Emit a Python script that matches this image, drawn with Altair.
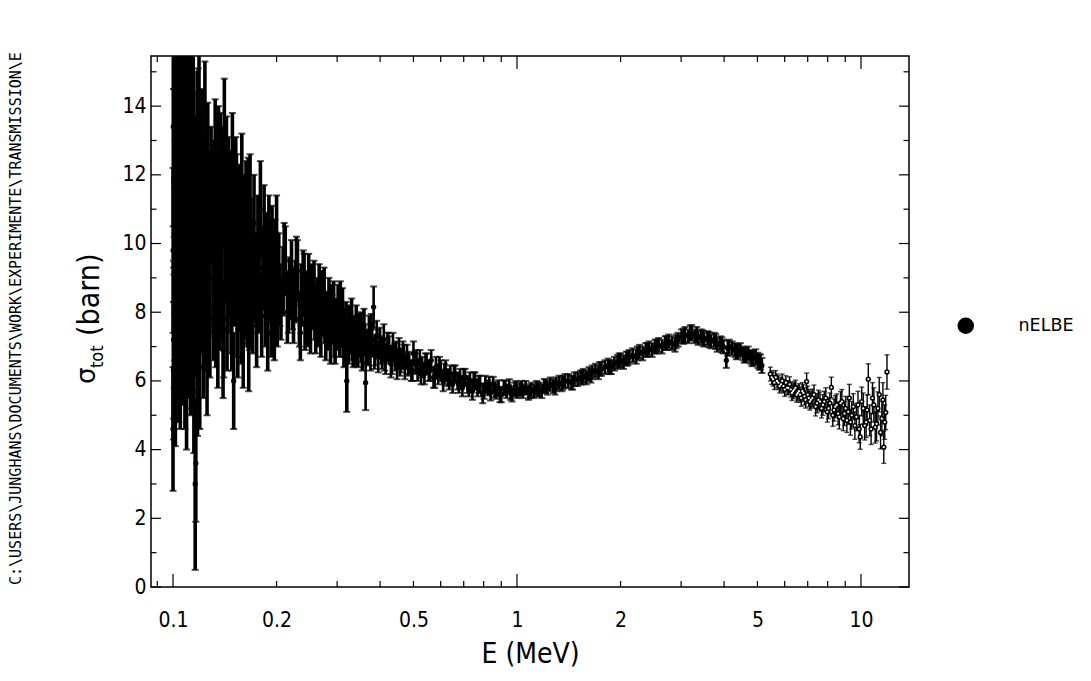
import altair as alt
import pandas as pd

# ---------------- data ----------------
# energies (MeV), cross sections (barn), 1-sigma errors (barn)
A_E = [0.1000,0.1002,0.1004,0.1007,0.1010,0.1013,0.1016,0.1019,0.1022,0.1026,
       0.1030,0.1034,0.1038,0.1042,0.1046,0.1050,0.1055,0.1060,0.1065,0.1070,
       0.1075,0.1080,0.1085,0.1090,0.1095,0.1100,0.1105,0.1110,0.1115,0.1120,
       0.1125,0.1130,0.1135,0.1140,0.1145,0.1150,0.1155,0.1160,0.1165,0.1170,
       0.1175,0.1180,0.1185,0.1190,0.1196,0.1202,0.1208,0.1214,0.1220,0.1226,
       0.1232,0.1238,0.1244,0.1250,0.1256,0.1262,0.1268,0.1274,0.1280,0.1290]
A_S = [4.6, 13.4, 7.2, 11.8, 9.1, 14.6, 6.1, 12.3, 8.4, 10.2,
       13.1, 7.7, 11.0, 9.6, 14.0, 6.6, 12.7, 8.9, 10.6, 13.8,
       7.4, 11.5, 9.3, 12.9, 5.9, 10.8, 8.2, 13.5, 9.8, 11.9,
       6.9, 12.4, 8.6, 10.1, 13.2, 5.7, 11.3, 3.0, 3.6, 9.4,
       12.6, 7.9, 10.9, 13.7, 6.4, 11.6, 8.8, 12.2, 9.9, 7.3,
       11.1, 13.0, 8.1, 10.4, 6.7, 12.0, 9.2, 10.7, 7.8, 11.4]
A_R = [1.8, 2.9, 2.3, 2.7, 2.5, 3.0, 2.0, 2.8, 2.4, 2.6,
       2.8, 2.2, 2.6, 2.4, 2.9, 2.0, 2.7, 2.3, 2.5, 2.8,
       2.1, 2.6, 2.3, 2.7, 1.9, 2.4, 2.2, 2.8, 2.3, 2.5,
       1.9, 2.5, 2.1, 2.3, 2.6, 1.8, 2.4, 2.5, 1.7, 2.2,
       2.4, 2.0, 2.3, 2.5, 1.8, 2.3, 2.0, 2.3, 2.1, 1.8,
       2.1, 2.3, 1.8, 2.0, 1.7, 2.1, 1.9, 2.0, 1.7, 2.0]

A2_E = [0.1001,0.1003,0.1005,0.1008,0.1011,0.1014,0.1017,0.1021,0.1024,0.1028,
        0.1032,0.1036,0.1040,0.1044,0.1048,0.1053,0.1058,0.1063,0.1068,0.1073,
        0.1078,0.1083,0.1088,0.1093,0.1098,0.1103,0.1108,0.1113,0.1118,0.1123,
        0.1128,0.1133,0.1138,0.1143,0.1148,0.1153,0.1172,0.1178,0.1183,0.1188]
A2_S = [9.8, 6.3, 11.9, 8.0, 13.0, 10.5, 7.6, 12.1, 9.0, 14.2,
        8.6, 10.9, 6.8, 12.5, 9.5, 11.3, 7.9, 13.3, 10.0, 8.5,
        12.4, 6.5, 10.3, 9.0, 11.7, 7.5, 12.9, 9.6, 8.2, 10.6,
        13.6, 7.1, 11.4, 9.3, 12.0, 8.0, 10.5, 6.2, 12.7, 9.1]
A2_R = [2.4, 2.0, 2.6, 2.2, 2.7, 2.5, 2.1, 2.6, 2.3, 2.8,
        2.2, 2.5, 2.0, 2.6, 2.3, 2.5, 2.1, 2.7, 2.3, 2.1,
        2.5, 1.9, 2.3, 2.2, 2.4, 2.0, 2.6, 2.2, 2.0, 2.3,
        2.6, 1.9, 2.3, 2.1, 2.4, 1.9, 2.2, 1.8, 2.4, 2.0]

B_E = [0.1302,0.1314,0.1326,0.1338,0.1350,0.1362,0.1374,0.1386,0.1398,0.1410,
       0.1423,0.1436,0.1449,0.1462,0.1475,0.1488,0.1501,0.1515,0.1529,0.1543,
       0.1557,0.1571,0.1585,0.1600,0.1615,0.1630,0.1645,0.1660,0.1675,0.1690,
       0.1705,0.1720,0.1735,0.1750,0.1765,0.1780,0.1795,0.1810,0.1825,0.1840,
       0.1855,0.1870,0.1885,0.1900,0.1910,0.1920,0.1930,0.1940,0.1950,0.1960,
       0.1970,0.1980,0.1990,0.2000,0.2010]
B_S = [11.2, 8.1, 12.4, 9.5, 7.3, 10.8, 12.0, 8.7, 6.9, 12.6,
       9.9, 7.8, 11.4, 10.3, 8.2, 12.1, 6.0, 9.6, 11.0, 7.5,
       10.5, 8.9, 11.6, 7.1, 9.8, 10.9, 8.3, 7.0, 11.2, 9.4,
       8.0, 10.6, 9.0, 7.6, 10.1, 8.6, 11.0, 7.9, 9.3, 10.4,
       8.1, 9.7, 7.4, 10.2, 8.8, 9.5, 7.8, 10.0, 8.4, 9.1,
       7.6, 9.6, 8.5, 10.3, 8.0]
B_R = [1.7, 1.5, 1.8, 1.6, 1.5, 1.7, 1.8, 1.5, 1.4, 2.2,
       1.6, 1.5, 1.7, 1.6, 1.4, 1.7, 1.4, 1.5, 1.6, 1.4,
       1.5, 1.4, 1.6, 1.3, 1.4, 1.5, 1.3, 1.3, 1.4, 1.3,
       1.2, 1.4, 1.3, 1.2, 1.3, 1.2, 1.4, 1.2, 1.2, 1.3,
       1.1, 1.2, 1.1, 1.2, 1.1, 1.2, 1.1, 1.1, 1.1, 1.1,
       1.0, 1.1, 1.0, 1.1, 1.0]

B2_E = [0.1308,0.1320,0.1332,0.1344,0.1356,0.1368,0.1380,0.1392,0.1404,0.1416,
        0.1430,0.1443,0.1456,0.1469,0.1482,0.1495,0.1508,0.1522,0.1536,0.1550,
        0.1564,0.1578,0.1593,0.1608,0.1623,0.1638,0.1653,0.1668,0.1683,0.1698]
B2_S = [9.0, 11.3, 7.9, 10.6, 12.2, 8.4, 9.9, 11.7, 7.5, 10.1,
        12.0, 8.8, 9.4, 11.1, 7.7, 10.2, 9.0, 11.5, 8.1, 9.7,
        10.8, 7.8, 9.3, 10.5, 8.5, 9.6, 11.0, 8.2, 9.9, 8.7]
B2_R = [1.6, 1.7, 1.5, 1.6, 1.8, 1.5, 1.6, 1.7, 1.4, 1.5,
        1.7, 1.4, 1.5, 1.6, 1.4, 1.5, 1.4, 1.6, 1.4, 1.4,
        1.5, 1.3, 1.4, 1.5, 1.3, 1.4, 1.5, 1.3, 1.4, 1.3]

C_E = [0.2030,0.2060,0.2090,0.2120,0.2150,0.2180,0.2210,0.2240,0.2270,0.2300,
       0.2330,0.2360,0.2390,0.2420,0.2450,0.2480,0.2510,0.2540,0.2570,0.2600,
       0.2630,0.2660,0.2690,0.2720,0.2750,0.2780,0.2810,0.2840,0.2870,0.2900,
       0.2930,0.2960,0.2990,0.3020,0.3050,0.3080,0.3110,0.3140,0.3170,0.3200,
       0.3235,0.3270,0.3305,0.3340,0.3375,0.3410,0.3445,0.3480,0.3515,0.3550]
C_S = [9.3, 8.1, 8.9, 9.5, 8.0, 8.7, 9.1, 7.9, 8.6, 9.2,
       7.8, 8.5, 8.9, 7.7, 8.4, 8.8, 7.6, 8.3, 8.7, 7.5,
       8.2, 8.6, 7.4, 8.0, 8.5, 7.3, 7.9, 8.3, 7.2, 7.8,
       8.2, 7.1, 7.7, 8.1, 7.3, 7.6, 8.0, 7.0, 7.5, 6.0,
       7.1, 7.4, 7.8, 6.9, 7.3, 7.6, 6.9, 7.2, 7.5, 6.8]
C_R = [1.0, 0.9, 1.0, 1.0, 0.9, 0.9, 1.0, 0.8, 0.9, 0.9,
       0.8, 0.9, 0.9, 0.8, 0.8, 0.9, 0.8, 0.8, 0.8, 0.7,
       0.8, 0.8, 0.7, 0.7, 0.8, 0.7, 0.7, 0.7, 0.7, 0.7,
       0.7, 0.6, 0.7, 0.7, 0.6, 0.6, 0.7, 0.6, 0.6, 0.9,
       0.6, 0.6, 0.6, 0.5, 0.6, 0.6, 0.5, 0.5, 0.5, 0.5]

C2_E = [0.2045,0.2105,0.2165,0.2225,0.2285,0.2345,0.2405,0.2465,0.2525,0.2585,
        0.2645,0.2705,0.2765,0.2825,0.2885,0.2945,0.3005,0.3065,0.3125,0.3185,
        0.3250,0.3320,0.3390,0.3460,0.3530]
C2_S = [8.5, 9.6, 8.3, 8.4, 9.3, 7.4, 8.8, 7.8, 8.6, 8.0,
        7.7, 8.4, 7.8, 7.6, 8.1, 7.4, 7.5, 8.2, 7.3, 7.7,
        7.6, 7.2, 7.0, 7.4, 7.1]
C2_R = [0.9, 1.0, 0.9, 0.9, 0.9, 0.8, 0.9, 0.8, 0.8, 0.8,
        0.7, 0.8, 0.7, 0.7, 0.7, 0.7, 0.6, 0.7, 0.6, 0.6,
        0.6, 0.6, 0.55, 0.55, 0.55]

D_E = [0.3590,0.3630,0.3670,0.3710,0.3750,0.3790,0.3830,0.3870,0.3910,0.3950,
       0.4000,0.4050,0.4100,0.4150,0.4200,0.4250,0.4300,0.4360,0.4420,0.4480,
       0.4540,0.4600,0.4660,0.4720,0.4790,0.4860,0.4930,0.5000,0.5070,0.5140,
       0.5220,0.5300,0.5380,0.5460,0.5540,0.5630,0.5720,0.5810,0.5900,0.6000,
       0.6100,0.6200,0.6300,0.6400,0.6500,0.6610,0.6720,0.6830,0.6940,0.7060,
       0.7180,0.7300,0.7420,0.7550,0.7680,0.7810,0.7950,0.8090,0.8230,0.8380,
       0.8530,0.8680,0.8840,0.9000,0.9160,0.9330,0.9500,0.9670,0.9840,1.0000]
D_S = [7.6, 5.95, 7.0, 7.4, 6.8, 7.2, 8.15, 6.9, 7.3, 6.7,
       7.1, 6.8, 7.2, 6.6, 7.0, 6.9, 6.5, 7.0, 6.7, 6.4,
       6.9, 6.6, 6.8, 6.4, 6.7, 6.5, 6.3, 6.8, 6.5, 6.3,
       6.6, 6.4, 6.2, 6.5, 6.3, 6.6, 6.1, 6.4, 6.2, 6.3,
       6.0, 6.3, 6.1, 6.2, 5.9, 6.2, 6.0, 6.1, 5.8, 6.1,
       5.9, 6.0, 5.7, 6.0, 5.8, 5.9, 5.6, 5.9, 5.8, 5.65,
       5.9, 5.7, 5.8, 5.6, 5.8, 5.7, 5.85, 5.6, 5.75, 5.7]
D_R = [0.5, 0.8, 0.5, 0.5, 0.5, 0.5, 0.6, 0.45, 0.45, 0.45,
       0.45, 0.45, 0.45, 0.4, 0.4, 0.4, 0.4, 0.4, 0.4, 0.35,
       0.35, 0.35, 0.35, 0.35, 0.35, 0.3, 0.3, 0.35, 0.3, 0.3,
       0.3, 0.3, 0.3, 0.3, 0.3, 0.3, 0.3, 0.3, 0.3, 0.3,
       0.3, 0.3, 0.25, 0.25, 0.25, 0.25, 0.25, 0.25, 0.25, 0.25,
       0.25, 0.25, 0.25, 0.25, 0.25, 0.25, 0.25, 0.25, 0.22, 0.22,
       0.22, 0.22, 0.22, 0.22, 0.22, 0.2, 0.2, 0.2, 0.2, 0.2]

D2_E = [0.3610,0.3690,0.3770,0.3850,0.3930,0.4025,0.4125,0.4225,0.4330,0.4450,
        0.4570,0.4690,0.4825,0.4965,0.5105,0.5260,0.5420,0.5585,0.5765,0.5950,
        0.6150,0.6350,0.6555,0.6775,0.7000,0.7240,0.7485,0.7745,0.8020,0.8305,
        0.8605,0.8920,0.9245,0.9585,0.9920]
D2_S = [7.2, 6.9, 7.5, 6.8, 7.1, 6.9, 6.7, 7.0, 6.6, 6.8,
        6.5, 6.7, 6.5, 6.3, 6.6, 6.2, 6.5, 6.3, 6.1, 6.4,
        6.2, 6.0, 6.2, 5.9, 6.1, 5.8, 6.0, 5.9, 5.7, 5.9,
        5.75, 5.6, 5.8, 5.65, 5.8]
D2_R = [0.45, 0.45, 0.45, 0.45, 0.4, 0.4, 0.4, 0.4, 0.4, 0.35,
        0.35, 0.35, 0.35, 0.3, 0.3, 0.3, 0.3, 0.3, 0.3, 0.3,
        0.3, 0.25, 0.25, 0.25, 0.25, 0.25, 0.25, 0.25, 0.22, 0.22,
        0.22, 0.22, 0.2, 0.2, 0.2]

E_E = [1.020,1.040,1.060,1.080,1.100,1.120,1.140,1.160,1.180,1.200,
       1.225,1.250,1.275,1.300,1.325,1.350,1.380,1.410,1.440,1.470,
       1.500,1.530,1.560,1.590,1.620,1.655,1.690,1.725,1.760,1.800,
       1.840,1.880,1.920,1.960,2.000,2.040,2.080,2.120,2.170,2.220,
       2.270,2.320,2.370,2.420,2.470,2.520,2.580,2.640,2.700,2.760,
       2.820,2.880,2.940,3.010,3.080,3.150,3.220,3.290,3.360,3.430,
       3.500,3.580,3.660,3.740,3.820,3.900,3.980,4.060,4.140,4.220,
       4.300,4.380,4.460,4.540,4.620,4.700,4.780,4.860,4.940,5.020,
       5.100,5.150]
E_S = [5.75, 5.7, 5.8, 5.65, 5.75, 5.7, 5.8, 5.75, 5.7, 5.85,
       5.8, 5.9, 5.85, 5.9, 5.95, 5.9, 6.0, 6.0, 5.95, 6.05,
       6.05, 6.1, 6.15, 6.1, 6.2, 6.25, 6.3, 6.25, 6.35, 6.4,
       6.45, 6.4, 6.5, 6.55, 6.6, 6.55, 6.65, 6.7, 6.75, 6.7,
       6.85, 6.8, 6.9, 6.95, 6.9, 7.0, 7.05, 7.0, 7.1, 7.15,
       7.1, 7.05, 7.2, 7.3, 7.35, 7.3, 7.4, 7.3, 7.25, 7.3,
       7.2, 7.25, 7.15, 7.2, 7.05, 7.1, 7.0, 6.6, 7.0, 6.95,
       6.9, 6.85, 6.9, 6.8, 6.75, 6.8, 6.7, 6.65, 6.7, 6.6,
       6.55, 6.45]
E_R = [0.2, 0.2, 0.2, 0.2, 0.2, 0.2, 0.2, 0.2, 0.2, 0.2,
       0.2, 0.2, 0.2, 0.2, 0.2, 0.2, 0.2, 0.2, 0.2, 0.2,
       0.2, 0.2, 0.2, 0.2, 0.2, 0.2, 0.2, 0.2, 0.2, 0.2,
       0.2, 0.2, 0.2, 0.2, 0.2, 0.2, 0.2, 0.2, 0.2, 0.2,
       0.2, 0.2, 0.2, 0.2, 0.2, 0.2, 0.2, 0.2, 0.2, 0.2,
       0.2, 0.2, 0.2, 0.2, 0.22, 0.2, 0.22, 0.2, 0.2, 0.2,
       0.2, 0.2, 0.2, 0.2, 0.2, 0.2, 0.2, 0.22, 0.2, 0.2,
       0.2, 0.2, 0.2, 0.2, 0.2, 0.2, 0.2, 0.2, 0.22, 0.22,
       0.22, 0.22]

E2_E = [1.03,1.09,1.15,1.21,1.29,1.36,1.45,1.545,1.64,1.74,
        1.86,1.98,2.10,2.24,2.39,2.55,2.72,2.90,3.05,3.19,
        3.33,3.47,3.62,3.78,3.94,4.10,4.34,4.58,4.82,5.06]
E2_S = [5.8, 5.7, 5.75, 5.85, 5.8, 5.95, 5.95, 6.1, 6.15, 6.35,
        6.4, 6.6, 6.65, 6.8, 6.9, 7.0, 7.1, 7.15, 7.3, 7.4,
        7.35, 7.25, 7.2, 7.15, 7.05, 6.95, 6.85, 6.75, 6.65, 6.55]
E2_R = [0.2, 0.2, 0.2, 0.2, 0.2, 0.2, 0.2, 0.2, 0.2, 0.2,
        0.2, 0.2, 0.2, 0.2, 0.2, 0.2, 0.2, 0.2, 0.22, 0.22,
        0.22, 0.22, 0.22, 0.22, 0.22, 0.22, 0.22, 0.22, 0.22, 0.22]

F_E = [5.45,5.55,5.65,5.75,5.85,5.95,6.05,6.15,6.25,6.35,
       6.45,6.55,6.65,6.75,6.85,6.95,7.05,7.15,7.30,7.45,
       7.60,7.75,7.90,8.05,8.20,8.35,8.50,8.65,8.80,8.95,
       9.10,9.25,9.40,9.60,9.80,9.95,10.15,10.35,10.50,10.70,
       10.90,11.10,11.30,11.50,11.65,11.80,11.90]
F_S = [6.2, 6.05, 6.1, 5.95, 5.9, 5.85, 5.95, 5.8, 5.75, 5.7,
       5.8, 5.65, 5.6, 5.7, 5.55, 5.98, 5.5, 5.45, 5.6, 5.35,
       5.4, 5.3, 5.5, 5.2, 5.81, 5.15, 5.3, 4.95, 5.4, 5.05,
       4.85, 5.5, 5.0, 4.7, 5.3, 4.37, 5.2, 4.8, 6.05, 4.6,
       5.3, 4.75, 5.6, 4.9, 4.07, 5.08, 6.26]
F_R = [0.2, 0.2, 0.2, 0.2, 0.2, 0.2, 0.2, 0.2, 0.22, 0.22,
       0.22, 0.22, 0.22, 0.25, 0.25, 0.25, 0.25, 0.25, 0.28, 0.28,
       0.28, 0.3, 0.3, 0.3, 0.3, 0.32, 0.32, 0.35, 0.35, 0.35,
       0.35, 0.4, 0.4, 0.4, 0.4, 0.36, 0.45, 0.45, 0.45, 0.45,
       0.5, 0.5, 0.5, 0.5, 0.47, 0.5, 0.5]

F2_E = [5.50,5.60,5.70,5.80,5.90,6.00,6.10,6.20,6.30,6.40,
        6.50,6.60,6.70,6.80,6.90,7.00,7.10,7.22,7.38,7.52,
        7.68,7.82,7.98,8.12,8.28,8.42,8.58,8.72,8.88,9.02,
        9.18,9.32,9.50,9.70,9.88,10.05,10.25,10.42,10.60,10.80,
        11.00,11.20,11.40,11.58,11.72]
F2_S = [6.1, 5.95, 6.0, 5.85, 6.0, 5.75, 5.8, 5.9, 5.65, 5.75,
        5.6, 5.7, 5.5, 5.65, 5.45, 5.6, 5.4, 5.5, 5.25, 5.45,
        5.2, 5.4, 5.1, 5.35, 5.0, 5.25, 5.05, 5.35, 4.9, 5.2,
        5.1, 4.8, 5.25, 4.95, 4.6, 5.4, 4.7, 5.15, 4.85, 5.5,
        4.65, 5.2, 4.5, 5.45, 4.8]
F2_R = [0.2, 0.2, 0.2, 0.2, 0.2, 0.2, 0.2, 0.22, 0.22, 0.22,
        0.22, 0.22, 0.24, 0.24, 0.24, 0.25, 0.25, 0.26, 0.27, 0.28,
        0.28, 0.3, 0.3, 0.3, 0.32, 0.32, 0.33, 0.34, 0.35, 0.35,
        0.36, 0.38, 0.38, 0.4, 0.4, 0.42, 0.42, 0.44, 0.45, 0.45,
        0.46, 0.48, 0.48, 0.5, 0.5]

X_LABELS = [0.1, 0.2, 0.5, 1, 2, 5, 10]
X_MAJOR = [0.1, 1, 10]
X_MINOR = [0.09, 0.2, 0.3, 0.4, 0.5, 0.6, 0.7, 0.8, 0.9, 2, 3, 4, 5, 6, 7, 8, 9]
Y_MAJOR = [0, 2, 4, 6, 8, 10, 12, 14]
Y_MINOR = [1, 3, 5, 7, 9, 11, 13, 15]
SERIES = "nELBE"
PATH_TEXT = "C:\\USERS\\JUNGHANS\\DOCUMENTS\\WORK\\EXPERIMENTE\\TRANSMISSION\\E"

# ---------------- build ----------------
E = A_E + A2_E + B_E + B2_E + C_E + C2_E + D_E + D2_E + E_E + E2_E + F_E + F2_E
S = A_S + A2_S + B_S + B2_S + C_S + C2_S + D_S + D2_S + E_S + E2_S + F_S + F2_S
R = A_R + A2_R + B_R + B2_R + C_R + C2_R + D_R + D2_R + E_R + E2_R + F_R + F2_R
assert len(E) == len(S) == len(R), (len(E), len(S), len(R))

df = pd.DataFrame({
    "E": E, "S": S,
    "lo": [s - r for s, r in zip(S, R)],
    "hi": [s + r for s, r in zip(S, R)],
    "series": [SERIES] * len(E),
})

W, H = 758, 531
FONT = "DejaVu Sans Condensed, DejaVu Sans, sans-serif"
xscale = alt.Scale(type="log", domain=[0.0863, 13.79], nice=False)
yscale = alt.Scale(domain=[0, 15.46], nice=False, zero=False)

X_AXIS = alt.Axis(
    values=X_LABELS, format="~g", ticks=False, domain=False, grid=False,
    labelFont=FONT, labelFontSize=21, labelColor="black", labelPadding=22,
    labelFlush=False, title="E (MeV)", titleFont=FONT, titleFontSize=28,
    titleFontWeight="normal", titleColor="black", titlePadding=10)
Y_AXIS = alt.Axis(
    values=Y_MAJOR, ticks=False, domain=False, grid=False,
    labelFont=FONT, labelFontSize=21, labelColor="black", labelPadding=5,
    labelFlush=False, title=None)


def X(field):
    return alt.X(field, scale=xscale, axis=X_AXIS, title="E (MeV)")


def Y(field):
    return alt.Y(field, scale=yscale, axis=Y_AXIS, title=None)


base = alt.Chart(df)
densest = base.transform_filter(alt.datum.E < 0.36)
dense = base.transform_filter((alt.datum.E >= 0.36) & (alt.datum.E < 5.3))
sparse = base.transform_filter(alt.datum.E >= 5.3)


def bar_layers(src, sw, cap):
    bars = src.mark_rule(color="black", strokeWidth=sw, clip=True).encode(
        x=X("E:Q"), y=Y("lo:Q"), y2="hi:Q")
    lo = src.mark_tick(orient="horizontal", size=cap, thickness=min(sw, 2),
                       color="black", clip=True).encode(x=X("E:Q"), y=Y("lo:Q"))
    hi = src.mark_tick(orient="horizontal", size=cap, thickness=min(sw, 2),
                       color="black", clip=True).encode(x=X("E:Q"), y=Y("hi:Q"))
    return [bars, lo, hi]


err_layers = (bar_layers(densest, 3.6, 7) + bar_layers(dense, 2.6, 7)
              + bar_layers(sparse, 1.4, 5))

pts = base.mark_point(filled=True, size=28, shape="circle", opacity=1,
                      clip=True).encode(
    x=X("E:Q"), y=Y("S:Q"),
    color=alt.Color("series:N", scale=alt.Scale(range=["black"]),
                    legend=alt.Legend(
                        title=None, orient="none", legendX=806, legendY=261,
                        symbolType="circle", symbolSize=225,
                        symbolFillColor="black", symbolStrokeColor="black",
                        labelFont="DejaVu Sans", labelFontSize=17.5,
                        labelColor="black", labelOffset=44, padding=0)),
)
pts_in = sparse.mark_point(filled=True, size=5, shape="circle", color="white",
                           opacity=1, clip=True).encode(x=X("E:Q"), y=Y("S:Q"))


# inward ticks on all four sides
def xticks(vals, length):
    d = alt.Chart(pd.DataFrame({"t": vals}))
    bot = d.mark_rule(color="black", strokeWidth=1.2).encode(
        x=X("t:Q"), y=alt.value(H), y2=alt.value(H - length))
    top = d.mark_rule(color="black", strokeWidth=1.2).encode(
        x=X("t:Q"), y=alt.value(0), y2=alt.value(length))
    return [bot, top]


def yticks(vals, length):
    d = alt.Chart(pd.DataFrame({"t": vals}))
    left = d.mark_rule(color="black", strokeWidth=1.2).encode(
        y=Y("t:Q"), x=alt.value(0), x2=alt.value(length))
    right = d.mark_rule(color="black", strokeWidth=1.2).encode(
        y=Y("t:Q"), x=alt.value(W - length), x2=alt.value(W))
    return [left, right]


tick_layers = (xticks(X_MAJOR, 13) + xticks(X_MINOR, 6)
               + yticks(Y_MAJOR, 10) + yticks(Y_MINOR, 5.5))


def label(text, x, y, size, font=FONT):
    return alt.Chart(pd.DataFrame({"t": [text]})).mark_text(
        angle=270, align="left", baseline="alphabetic", font=font,
        fontSize=size, color="black").encode(
        text="t:N", x=alt.value(x), y=alt.value(y))


ytitle = [
    label("σ", -56, 328, 26, "DejaVu Sans"),
    label("tot", -48, 312, 18),
    label("(barn)", -52, 280, 30),
]
path = label(PATH_TEXT, -130, 529, 15, "DejaVu Sans Mono")

chart = alt.layer(
    *err_layers, pts, pts_in, *tick_layers, *ytitle, path
).properties(
    width=W, height=H,
    autosize=alt.AutoSizeParams(type="none"),
    padding={"left": 143, "top": 48, "right": 170, "bottom": 86},
).configure_view(stroke="black", strokeWidth=1.5, fill="white")

chart.save("out.html", embed_options={"renderer": "svg", "actions": False})
